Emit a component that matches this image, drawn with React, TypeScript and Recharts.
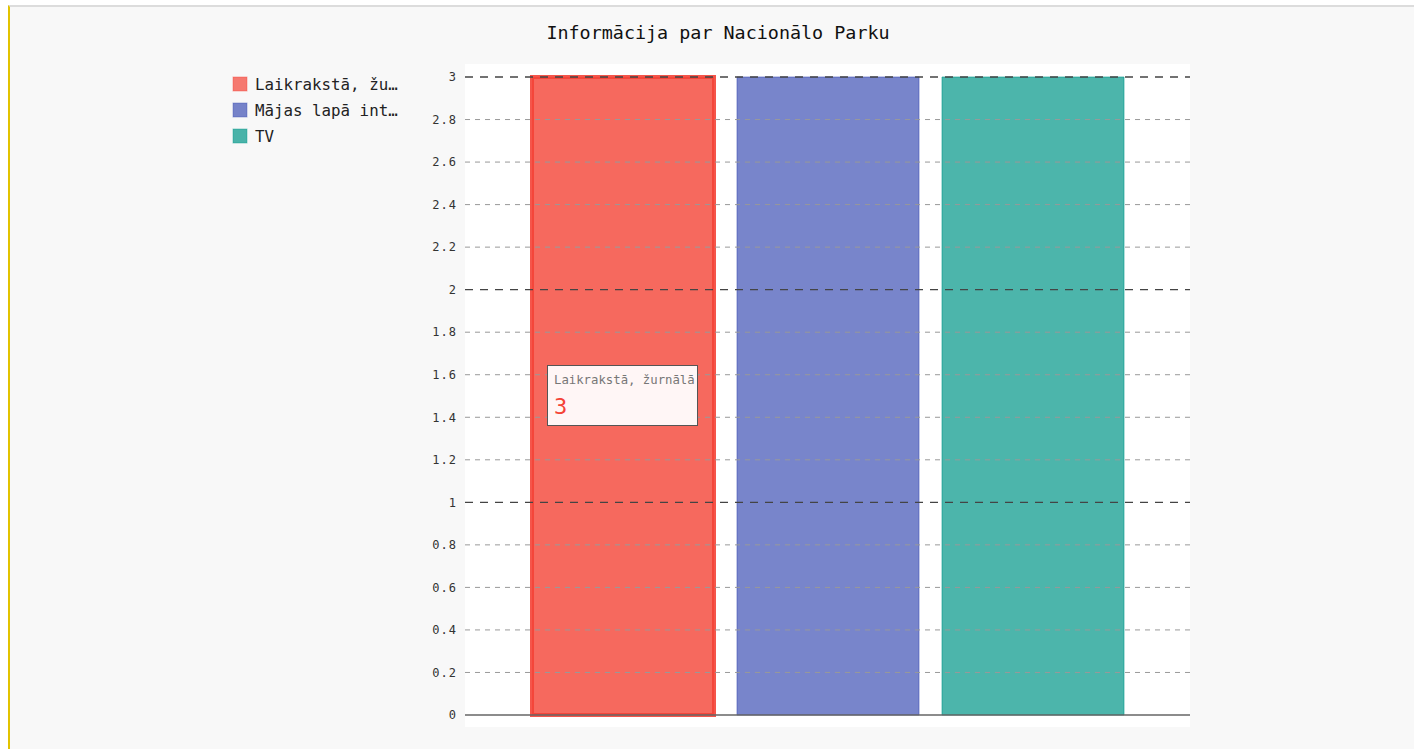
import React from "react";
import { BarChart, Bar, XAxis, YAxis, ReferenceLine, Tooltip } from "recharts";

const chartTitle = "Informācija par Nacionālo Parku";
const seriesNames = ["Laikrakstā, žurnālā", "Mājas lapā internetā", "TV"];
const seriesKeys = ["s0", "s1", "s2"];
const seriesColors = ["#F44336", "#3F51B5", "#009688"];
const seriesValues = [3, 3, 3];
const yTicks = [0, 0.2, 0.4, 0.6, 0.8, 1, 1.2, 1.4, 1.6, 1.8, 2, 2.2, 2.4, 2.6, 2.8, 3];
const majorTicks = [1, 2, 3];

const data = [
  seriesKeys.reduce((row: any, k, i) => {
    row[k] = seriesValues[i];
    return row;
  }, { name: "" }),
];

const FONT = "'DejaVu Sans Mono', 'Liberation Mono', monospace";

const truncate = (s: string, n: number) => (s.length > n ? s.slice(0, n) + "…" : s);

const LegendBlock = () => (
  <div style={{ position: "absolute", left: 232, top: 71, fontFamily: FONT }}>
    {seriesNames.map((name, i) => (
      <div key={name} style={{ display: "flex", alignItems: "center", height: 26 }}>
        <svg width={16} height={16} style={{ marginRight: 7 }}>
          <rect x={1} y={1} width={14} height={14} fill={seriesColors[i]} fillOpacity={0.7} stroke={seriesColors[i]} strokeOpacity={0.4} strokeWidth={1} />
        </svg>
        <span style={{ fontSize: 15.8, color: "#222", whiteSpace: "nowrap" }}>{truncate(name, 14)}</span>
      </div>
    ))}
  </div>
);

const TooltipContent = () => (
  <div
    style={{
      width: 149,
      height: 59,
      background: "#fff6f6",
      border: "1px solid #555",
      fontFamily: FONT,
      boxSizing: "content-box",
      padding: 0,
    }}
  >
    <div style={{ fontSize: 12.3, color: "#777", marginLeft: 6, marginTop: 6, whiteSpace: "nowrap", lineHeight: "16px" }}>{seriesNames[0]}</div>
    <div style={{ fontSize: 22, color: "#F44336", marginLeft: 6, marginTop: 6, lineHeight: "26px" }}>{seriesValues[0]}</div>
  </div>
);

export default function App() {
  return (
    <div style={{ position: "absolute", left: 0, top: 0, width: 1414, height: 749, background: "#fff", overflow: "hidden" }}>
      <div
        style={{
          position: "absolute",
          left: 8,
          top: 5,
          width: 1420,
          height: 760,
          background: "#f8f8f8",
          borderTop: "2px solid #dcdcdc",
          borderLeft: "2px solid #e2c300",
        }}
      />
      <div style={{ position: "absolute", left: 465, top: 64, width: 725, height: 663, background: "#ffffff" }} />
      <div
        style={{
          position: "absolute",
          left: 0,
          top: 22,
          width: 1436,
          textAlign: "center",
          fontFamily: FONT,
          fontSize: 18.4,
          color: "#111",
        }}
      >
        {chartTitle}
      </div>
      <LegendBlock />
      <div style={{ position: "absolute", left: 0, top: 0 }}>
        <BarChart
          width={1414}
          height={749}
          data={data}
          margin={{ top: 77, right: 224, bottom: 34, left: 405 }}
          barGap={23}
          barSize={182}
        >
          <XAxis dataKey="name" hide />
          <YAxis
            width={60}
            domain={[0, 3]}
            ticks={yTicks}
            interval={0}
            axisLine={false}
            tickLine={false}
            tick={{ fontFamily: FONT, fontSize: 12, fill: "#333", letterSpacing: 1 }}
            tickFormatter={(v: number) => String(v)}
          />
          {yTicks.filter((t) => t !== 0).map((t) => {
            const major = majorTicks.includes(t);
            return (
              <ReferenceLine
                key={t}
                y={t}
                stroke={major ? "#444" : "#999"}
                strokeWidth={major ? 1.3 : 1}
                strokeDasharray={major ? "8 7" : "5 5"}
              />
            );
          })}
          <ReferenceLine y={0} stroke="#666" strokeWidth={1.5} />
          {seriesKeys.map((k, i) => (
            <Bar
              key={k}
              dataKey={k}
              name={seriesNames[i]}
              fill={seriesColors[i]}
              fillOpacity={i === 0 ? 0.8 : 0.7}
              stroke={seriesColors[i]}
              strokeOpacity={i === 0 ? 0.9 : 0.6}
              strokeWidth={i === 0 ? 4 : 1}
              isAnimationActive={false}
            />
          ))}
          <Tooltip
            active
            defaultIndex={0}
            cursor={false}
            isAnimationActive={false}
            position={{ x: 547, y: 365 }}
            wrapperStyle={{ outline: "none" }}
            content={() => <TooltipContent />}
          />
        </BarChart>
      </div>
    </div>
  );
}
